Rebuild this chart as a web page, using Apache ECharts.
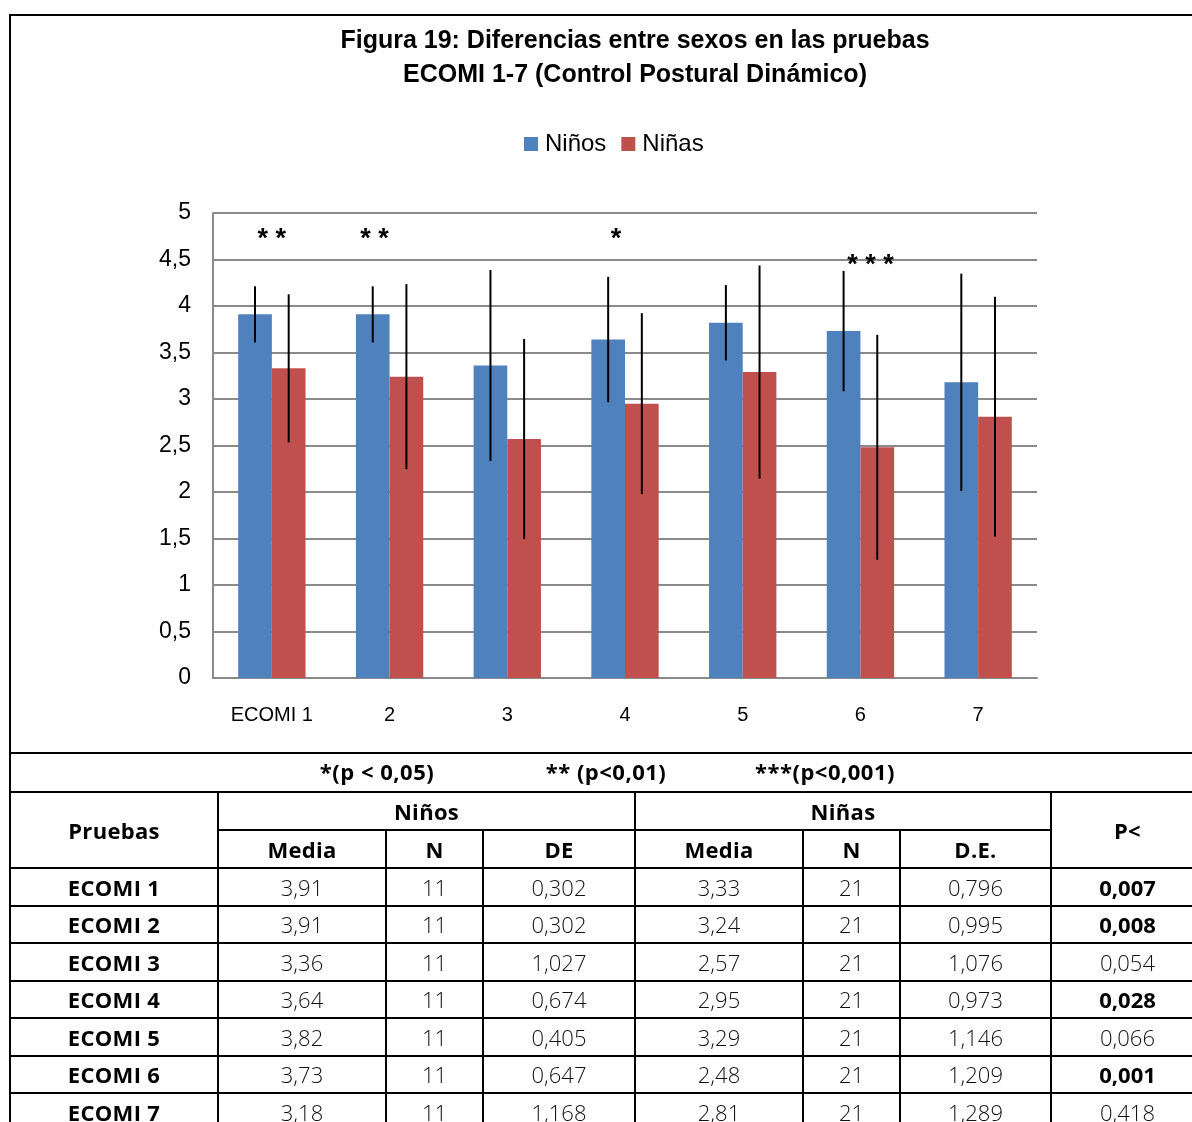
<!DOCTYPE html>
<html>
<head>
<meta charset="utf-8">
<title>Figura 19</title>
<script src="https://cdn.jsdelivr.net/npm/echarts@6.0.0/dist/echarts.min.js"></script>
<style>
  html, body { margin: 0; padding: 0; background: #fff; width: 1192px; height: 1122px; overflow: hidden; position: relative; }
  #chart { position: absolute; left: 0; top: 0; width: 1192px; height: 752px; }
  #frame { position: absolute; left: 9px; top: 14px; width: 1260px; height: 740px; border: 2px solid #000; border-bottom: none; box-sizing: border-box; pointer-events: none; }
  #tabla { position: absolute; left: 0; top: 0; width: 1192px; height: 1122px; }
  .cell { position: absolute; box-sizing: border-box; border: 2px solid #000; display: flex; align-items: center; justify-content: center;
          font-family: 'Open Sans', 'Noto Sans', sans-serif; font-size: 22px; color: #111; font-weight: 300; background: transparent; }
  .head { font-weight: 700; color: #000; font-size: 22px; letter-spacing: 0.3px; }
  .strong { font-weight: 700; color: #000; }
  .nota { position: absolute; transform: translate(-50%, -50%); font-family: 'Open Sans', 'Noto Sans', sans-serif; font-size: 22px; font-weight: 700; color: #000; white-space: pre; letter-spacing: 0.5px; }
</style>
</head>
<body>
<div id="chart"></div>
<div id="frame"></div>
<div id="tabla"></div>
<script>
// Pruebas ECOMI 1-7: medias y desviaciones por sexo
const categories = ['ECOMI 1', 'ECOMI 2', 'ECOMI 3', 'ECOMI 4', 'ECOMI 5', 'ECOMI 6', 'ECOMI 7'];
const axisLabels = ['ECOMI 1', '2', '3', '4', '5', '6', '7'];
const ninosMedia = [3.91, 3.91, 3.36, 3.64, 3.82, 3.73, 3.18];
const ninosN     = [11, 11, 11, 11, 11, 11, 11];
const ninosDE    = [0.302, 0.302, 1.027, 0.674, 0.405, 0.647, 1.168];
const ninasMedia = [3.33, 3.24, 2.57, 2.95, 3.29, 2.48, 2.81];
const ninasN     = [21, 21, 21, 21, 21, 21, 21];
const ninasDE    = [0.796, 0.995, 1.076, 0.973, 1.146, 1.209, 1.289];
const pValores   = [0.007, 0.008, 0.054, 0.028, 0.066, 0.001, 0.418];
// Marcas de significación y la altura (en unidades del eje) donde se escriben
const sigMarcas  = ['* *', '* *', '', '*', '', '* * *', ''];
const sigAltura  = [4.71, 4.71, null, 4.71, null, 4.44, null];
const notas      = ['*(p < 0,05)', '** (p<0,01)', '***(p<0,001)'];
const yTicks     = [0, 0.5, 1, 1.5, 2, 2.5, 3, 3.5, 4, 4.5, 5];

// Layout constants
const BAR_FRAC = 0.286;
const sigShift = [0, -15, 0, -9, 0, 10, 0];
const FONT = "'Liberation Sans', Arial, sans-serif";
const AZUL = '#4F81BD', ROJO = '#C0504D';

const coma = (v, d) => (d == null ? String(v) : v.toFixed(d)).replace('.', ',');
const sigDatos = sigMarcas.map((t, i) => [i, sigAltura[i], t]).filter(d => d[2]);

function errorBarSeries(name, medias, des, side) {
  return {
    type: 'custom',
    name: name + ' DE',
    z: 5,
    silent: true,
    data: medias.map((m, i) => [i, m, des[i]]),
    encode: { x: 0, y: 1 },
    renderItem: function (params, api) {
      const i = api.value(0), m = api.value(1), d = api.value(2);
      const band = api.size([1, 0])[0];
      const cx = api.coord([i, m])[0] + side * band * BAR_FRAC / 2;
      const yTop = api.coord([i, m + d])[1];
      const yBot = api.coord([i, m - d])[1];
      return { type: 'line', shape: { x1: cx, y1: yTop, x2: cx, y2: yBot }, style: { stroke: '#000', lineWidth: 2 } };
    }
  };
}

const chart = echarts.init(document.getElementById('chart'), null, { renderer: 'canvas' });
chart.setOption({
  animation: false,
  backgroundColor: 'transparent',
  title: {
    text: 'Figura 19: Diferencias entre sexos en las pruebas\nECOMI 1-7 (Control Postural Dinámico)',
    left: 630, top: 19, textAlign: 'center',
    textStyle: { fontFamily: FONT, fontSize: 25, fontWeight: 'bold', color: '#000', lineHeight: 34 }
  },
  legend: {
    data: ['Niños', 'Niñas'],
    left: 519, top: 127,
    icon: 'rect', itemWidth: 14, itemHeight: 14, itemGap: 15,
    textStyle: { fontFamily: FONT, fontSize: 24, color: '#000', padding: [0, 0, 0, 2] }
  },
  grid: { left: 213, top: 213, width: 824, height: 465, containLabel: false },
  xAxis: {
    type: 'category',
    data: categories,
    axisLine: { show: true, lineStyle: { color: '#8a8a8a', width: 2 } },
    axisTick: { show: false },
    axisLabel: { fontFamily: FONT, fontSize: 20, color: '#000', margin: 27, formatter: (v, i) => axisLabels[i] }
  },
  yAxis: {
    type: 'value', min: 0, max: 5, interval: 0.5,
    axisLine: { show: true, lineStyle: { color: '#8a8a8a', width: 2 } },
    axisTick: { show: false },
    splitLine: { show: true, lineStyle: { color: '#8a8a8a', width: 2 } },
    axisLabel: { fontFamily: FONT, fontSize: 23, color: '#000', margin: 22, formatter: v => coma(yTicks.find(t => Math.abs(t - v) < 1e-9) ?? v) }
  },
  series: [
    { type: 'bar', name: 'Niños', data: ninosMedia, barWidth: (BAR_FRAC * 100) + '%', barGap: '0%', itemStyle: { color: AZUL } },
    { type: 'bar', name: 'Niñas', data: ninasMedia, barWidth: (BAR_FRAC * 100) + '%', barGap: '0%', itemStyle: { color: ROJO } },
    errorBarSeries('Niños', ninosMedia, ninosDE, -1),
    errorBarSeries('Niñas', ninasMedia, ninasDE, 1),
    {
      type: 'custom',
      name: 'significación',
      z: 6,
      silent: true,
      data: sigDatos,
      encode: { x: 0, y: 1 },
      renderItem: function (params, api) {
        const row = sigDatos[params.dataIndex];
        const p = api.coord([row[0], row[1]]);
        return {
          type: 'text', x: p[0] + sigShift[row[0]], y: p[1],
          style: { text: row[2], fontFamily: FONT, fontSize: 27, fontWeight: 'bold', fill: '#000', align: 'center', verticalAlign: 'middle' }
        };
      }
    }
  ]
});

// Tabla de resultados
const colX = [10, 218, 386, 483, 635, 803, 900, 1051, 1204];
const rowY = [753, 792, 830, 868, 905.5, 943, 980.5, 1018, 1055.5, 1093, 1130.5];
const notaX = [377, 606, 825];
const tabla = document.getElementById('tabla');

function cell(x0, x1, y0, y1, text, cls) {
  const d = document.createElement('div');
  d.className = 'cell' + (cls ? ' ' + cls : '');
  d.style.left = (x0 - 1) + 'px';
  d.style.top = (y0 - 1) + 'px';
  d.style.width = (x1 - x0 + 2) + 'px';
  d.style.height = (y1 - y0 + 2) + 'px';
  d.textContent = text;
  tabla.appendChild(d);
}

cell(colX[0], colX[8], rowY[0], rowY[1], '');
notas.forEach((t, i) => {
  const s = document.createElement('div');
  s.className = 'nota';
  s.style.left = notaX[i] + 'px';
  s.style.top = ((rowY[0] + rowY[1]) / 2 - 2) + 'px';
  s.textContent = t;
  tabla.appendChild(s);
});

cell(colX[0], colX[1], rowY[1], rowY[3], 'Pruebas', 'head');
cell(colX[1], colX[4], rowY[1], rowY[2], 'Niños', 'head');
cell(colX[4], colX[7], rowY[1], rowY[2], 'Niñas', 'head');
cell(colX[7], colX[8], rowY[1], rowY[3], 'P<', 'head');
['Media', 'N', 'DE', 'Media', 'N', 'D.E.'].forEach((t, j) => cell(colX[j + 1], colX[j + 2], rowY[2], rowY[3], t, 'head'));

categories.forEach((c, i) => {
  const y0 = rowY[3 + i], y1 = rowY[4 + i];
  cell(colX[0], colX[1], y0, y1, c, 'head');
  cell(colX[1], colX[2], y0, y1, coma(ninosMedia[i], 2));
  cell(colX[2], colX[3], y0, y1, String(ninosN[i]));
  cell(colX[3], colX[4], y0, y1, coma(ninosDE[i], 3));
  cell(colX[4], colX[5], y0, y1, coma(ninasMedia[i], 2));
  cell(colX[5], colX[6], y0, y1, String(ninasN[i]));
  cell(colX[6], colX[7], y0, y1, coma(ninasDE[i], 3));
  cell(colX[7], colX[8], y0, y1, coma(pValores[i], 3), pValores[i] < 0.05 ? 'strong' : '');
});
</script>
</body>
</html>
